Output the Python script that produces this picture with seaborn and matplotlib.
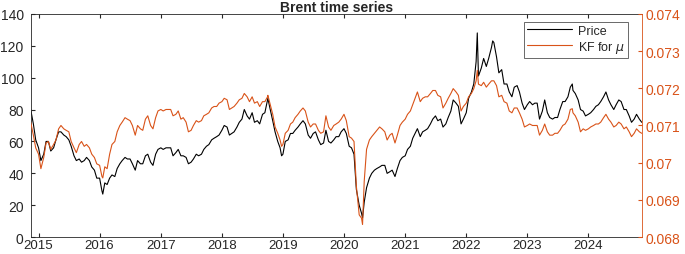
import pandas as pd
import numpy as np
import matplotlib
matplotlib.use("Agg")
import matplotlib.pyplot as plt
import seaborn as sns

# semi-monthly samples (1st and 15th), 2014-11-15 .. 2024-11-15
dates = pd.date_range("2014-11-15", "2024-11-15", freq="SMS")

price = [
    80, 71, 61,
    56, 48, 52, 60, 60, 54, 56, 61, 66, 66, 64, 63, 61, 57, 51, 48, 49, 47, 48, 50, 48, 44, 42, 37,
    37, 29, 34, 33, 37, 39, 38, 43, 46, 48, 50, 49, 49, 46, 42, 48, 46, 46, 51, 52, 47, 45, 52, 55,
    56, 55, 56, 56, 56, 51, 53, 55, 51, 51, 50, 46, 47, 49, 52, 51, 52, 55, 57, 58, 61, 62, 63, 64,
    67, 70, 69, 64, 65, 66, 69, 72, 74, 80, 76, 74, 78, 72, 73, 71, 77, 78, 86, 81, 73, 66, 60, 56,
    52, 60, 61, 65, 65, 67, 69, 71, 73, 71, 64, 62, 65, 66, 61, 58, 59, 67, 60, 59, 61, 63, 63, 66,
    68, 65, 57, 56, 52, 30, 20, 15, 22, 31, 37, 40, 42, 43, 44, 45, 45, 40, 41, 42, 38, 43, 48, 50,
    51, 55, 57, 62, 65, 68, 63, 66, 67, 68, 71, 74, 76, 73, 74, 69, 71, 75, 79, 86, 84, 82, 71, 74,
    78, 87, 91, 96, 110, 101, 106, 112, 107, 112, 119, 122, 113, 103, 105, 96, 96, 91, 88, 94, 95, 91, 84, 80,
    83, 85, 83, 84, 84, 74, 79, 86, 78, 75, 74, 75, 75, 80, 85, 85, 88, 94, 92, 90, 86, 80, 79, 76,
    77, 78, 80, 82, 83, 85, 88, 91, 86, 83, 80, 83, 86, 85, 80, 80, 76, 72, 74, 77, 74, 72,
]

kf_mu = [
    0.07109, 0.07074, 0.07040,
    0.07023, 0.06984, 0.07014, 0.07053, 0.07057, 0.07036, 0.07049, 0.07061, 0.07091, 0.07100, 0.07091, 0.07087,
    0.07083, 0.07057, 0.07040, 0.07027, 0.07049, 0.07057, 0.07044, 0.07049, 0.07040, 0.07023, 0.07014, 0.06997,
    0.06993, 0.06963, 0.06989, 0.06984, 0.07023, 0.07049, 0.07057, 0.07083, 0.07100, 0.07109, 0.07121, 0.07117,
    0.07113, 0.07100, 0.07074, 0.07100, 0.07091, 0.07087, 0.07117, 0.07126, 0.07100, 0.07091, 0.07121, 0.07139,
    0.07143, 0.07139, 0.07143, 0.07143, 0.07143, 0.07126, 0.07130, 0.07139, 0.07117, 0.07121, 0.07109, 0.07083,
    0.07087, 0.07100, 0.07113, 0.07109, 0.07113, 0.07126, 0.07130, 0.07134, 0.07147, 0.07151, 0.07151, 0.07160,
    0.07164, 0.07173, 0.07169, 0.07143, 0.07147, 0.07151, 0.07160, 0.07169, 0.07173, 0.07186, 0.07177, 0.07164,
    0.07177, 0.07160, 0.07164, 0.07151, 0.07164, 0.07164, 0.07177, 0.07160, 0.07130, 0.07096, 0.07079, 0.07061,
    0.07049, 0.07079, 0.07087, 0.07104, 0.07109, 0.07121, 0.07130, 0.07139, 0.07147, 0.07139, 0.07109, 0.07096,
    0.07104, 0.07104, 0.07087, 0.07079, 0.07083, 0.07126, 0.07096, 0.07087, 0.07100, 0.07104, 0.07109, 0.07117,
    0.07130, 0.07113, 0.07070, 0.07066, 0.07057, 0.06937, 0.06860, 0.06851, 0.06950, 0.07036, 0.07061, 0.07070,
    0.07079, 0.07087, 0.07096, 0.07091, 0.07083, 0.07061, 0.07074, 0.07079, 0.07053, 0.07074, 0.07100, 0.07109,
    0.07117, 0.07130, 0.07139, 0.07156, 0.07173, 0.07190, 0.07164, 0.07173, 0.07177, 0.07177, 0.07186, 0.07194,
    0.07194, 0.07181, 0.07177, 0.07147, 0.07160, 0.07173, 0.07186, 0.07199, 0.07190, 0.07181, 0.07139, 0.07151,
    0.07160, 0.07177, 0.07186, 0.07199, 0.07220, 0.07211, 0.07207, 0.07216, 0.07203, 0.07211, 0.07220, 0.07220,
    0.07207, 0.07177, 0.07181, 0.07164, 0.07160, 0.07139, 0.07134, 0.07147, 0.07147, 0.07134, 0.07117, 0.07096,
    0.07100, 0.07104, 0.07100, 0.07100, 0.07100, 0.07074, 0.07087, 0.07104, 0.07083, 0.07074, 0.07074, 0.07079,
    0.07079, 0.07087, 0.07100, 0.07104, 0.07117, 0.07143, 0.07134, 0.07126, 0.07109, 0.07083, 0.07091, 0.07087,
    0.07091, 0.07096, 0.07100, 0.07104, 0.07104, 0.07109, 0.07121, 0.07130, 0.07117, 0.07109, 0.07096, 0.07100,
    0.07109, 0.07104, 0.07091, 0.07096, 0.07083, 0.07070, 0.07079, 0.07091, 0.07083, 0.07079,
]

# extreme days that fall between the samples
spike_dates = ["2016-01-20", "2018-10-03", "2018-12-24", "2020-04-21", "2022-03-08", "2022-06-08", "2023-09-27"]
spike_price = [27, 87, 51, 12, 128, 123, 96]
spike_kf = [0.06959, 0.07181, 0.07044, 0.06834, 0.07248, 0.07220, 0.07145]

years = list(range(2015, 2025))
kf_ticks = [0.068, 0.069, 0.070, 0.071, 0.072, 0.073, 0.074]
kf_ticklabels = ["0.068", "0.069", "0.07", "0.071", "0.072", "0.073", "0.074"]

df = pd.DataFrame({"date": dates, "price": price, "kf": kf_mu})
spikes = pd.DataFrame({"date": pd.to_datetime(spike_dates), "price": spike_price, "kf": spike_kf})
df = pd.concat([df, spikes]).sort_values("date").reset_index(drop=True)

sns.set_style("white")
plt.rcParams['font.family'] = ['Liberation Sans', 'DejaVu Sans']

orange = "#D95319"
dark = "#262626"

fig = plt.figure(figsize=(6.85, 2.55), dpi=100)
ax = fig.add_axes([0.0448, 0.066, 0.892, 0.876])
sns.lineplot(data=df, x="date", y="price", ax=ax, color="black", lw=0.8,
             estimator=None, legend=False)
ax2 = ax.twinx()
sns.lineplot(data=df, x="date", y="kf", ax=ax2, color=orange, lw=0.8,
             estimator=None, legend=False)

ax.set_xlim(df["date"].min(), df["date"].max())
ax.set_ylim(0, 140)
ax2.set_ylim(0.068, 0.074)

ax.set_xticks(pd.to_datetime([f"{y}-01-01" for y in years]))
ax.set_xticklabels([str(y) for y in years], fontsize=9.5)
ax.set_yticks(range(0, 141, 20))
ax.set_yticklabels([str(v) for v in range(0, 141, 20)], fontsize=10)
ax2.set_yticks(kf_ticks)
ax2.set_yticklabels(kf_ticklabels, fontsize=10, color=orange)

ax.set_xlabel("")
ax.set_ylabel("")
ax2.set_ylabel("")

ax.tick_params(axis="x", direction="in", length=3, top=True, bottom=True, color=dark, pad=1.5)
ax.tick_params(axis="y", direction="in", length=3, left=True, right=False, color=dark, pad=5)
ax2.tick_params(axis="y", direction="in", length=3, right=True, color=orange, pad=3)

for s in ["left", "top", "bottom"]:
    ax.spines[s].set_color(dark)
    ax.spines[s].set_linewidth(0.6)
    ax2.spines[s].set_visible(False)
ax.spines["right"].set_visible(False)
ax2.spines["right"].set_color(orange)
ax2.spines["right"].set_linewidth(0.6)

ax.set_title("Brent time series", fontsize=10, fontweight="bold", pad=2)

handles = [ax.get_lines()[0], ax2.get_lines()[0]]
leg = ax2.legend(handles, ["Price", r"KF for $\mu$"], loc="upper right",
                 bbox_to_anchor=(0.978, 0.965), fontsize=9, frameon=True,
                 fancybox=False, edgecolor=dark, handlelength=3.6,
                 borderpad=0.25, labelspacing=0.15, handletextpad=0.5,
                 borderaxespad=0)
leg.get_frame().set_linewidth(0.6)

fig.savefig("out.png", dpi=100)
